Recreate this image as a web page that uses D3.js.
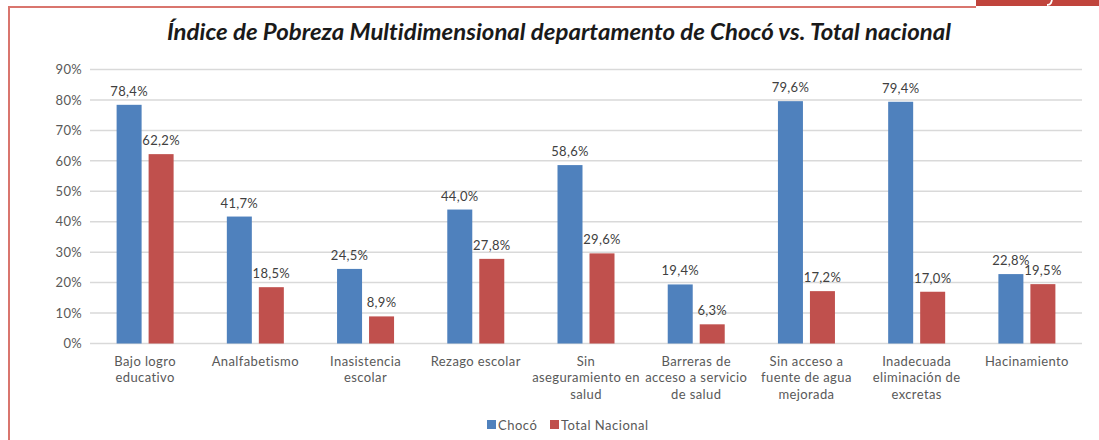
<!DOCTYPE html>
<html>
<head>
<meta charset="utf-8">
<script src="https://cdn.jsdelivr.net/npm/d3@7"></script>
<style>
  body { margin: 0; background: #fff; }
  svg { display: block; }
  text { font-variant-ligatures: none; }
  .tick text { font-family: Lato, "Open Sans", sans-serif; font-size: 13px; fill: #595959; letter-spacing: 0.3px; }
</style>
</head>
<body>
<div id="chart"></div>
<script>
// data
var categories = [
  ["Bajo logro", "educativo"],
  ["Analfabetismo"],
  ["Inasistencia", "escolar"],
  ["Rezago escolar"],
  ["Sin", "aseguramiento en", "salud"],
  ["Barreras de", "acceso a servicio", "de salud"],
  ["Sin acceso a", "fuente de agua", "mejorada"],
  ["Inadecuada", "eliminación de", "excretas"],
  ["Hacinamiento"]
];
var choco = [78.4, 41.7, 24.5, 44.0, 58.6, 19.4, 79.6, 79.4, 22.8];
var nacional = [62.2, 18.5, 8.9, 27.8, 29.6, 6.3, 17.2, 17.0, 19.5];
var seriesNames = ["Chocó", "Total Nacional"];
var colors = ["#4f81bd", "#c0504d"];
var yTicks = [0, 10, 20, 30, 40, 50, 60, 70, 80, 90];

var W = 1099, H = 440;
var margin = {top: 69.5, right: 17, bottom: 96.5, left: 90},
  width = W - margin.left - margin.right,
  height = H - margin.top - margin.bottom;

var svg = d3.select("#chart").append("svg")
  .attr("width", W)
  .attr("height", H);

// frame, with the red tab cut off at the top right
svg.append("rect")
  .attr("x", 976).attr("y", 0)
  .attr("width", 123).attr("height", 6)
  .attr("fill", "#c0443c");
svg.append("path")
  .attr("d", "M1052,0 L1051,3 Q1050,5 1047,5")
  .attr("fill", "none")
  .attr("stroke", "#fff")
  .attr("stroke-width", 1.8);
svg.append("path")
  .attr("d", "M9,440 V7 H976")
  .attr("fill", "none")
  .attr("stroke", "#d9756e")
  .attr("stroke-width", 2);

// title
svg.append("text")
  .attr("x", 559).attr("y", 40)
  .attr("text-anchor", "middle")
  .attr("fill", "#1a1a1a")
  .style("font-family", "Lato, 'Open Sans', sans-serif")
  .style("font-style", "italic")
  .style("font-weight", "bold")
  .style("font-size", "22px")
  .attr("textLength", 784)
  .attr("lengthAdjust", "spacingAndGlyphs")
  .text("Índice de Pobreza Multidimensional departamento de Chocó vs. Total nacional");

var g = svg.append("g")
  .attr("transform", "translate(" + margin.left + "," + margin.top + ")");

var x = d3.scaleBand()
  .domain(d3.range(categories.length))
  .range([0, width]);

var y = d3.scaleLinear()
  .domain([0, 90])
  .range([height, 0]);

// gridlines
g.append("g")
  .selectAll("line")
  .data(yTicks)
  .join("line")
  .attr("x1", 0).attr("x2", width)
  .attr("y1", function(d) { return y(d); })
  .attr("y2", function(d) { return y(d); })
  .attr("stroke", "#d9d9d9")
  .attr("stroke-width", 1.5);

// y axis
var yAxis = g.append("g")
  .call(d3.axisLeft(y)
    .tickValues(yTicks)
    .tickFormat(function(d) { return d + "%"; })
    .tickSize(0)
    .tickPadding(8));
yAxis.select(".domain").remove();

var barW = 25, gap = 7;
var series = [choco, nacional];

series.forEach(function(vals, s) {
  var off = s === 0 ? -(gap / 2 + barW) : gap / 2;
  var cx = function(i) { return x(i) + x.bandwidth() / 2 + off; };

  g.append("g")
    .selectAll("rect")
    .data(vals)
    .join("rect")
    .attr("x", function(d, i) { return cx(i); })
    .attr("y", function(d) { return y(d); })
    .attr("width", barW)
    .attr("height", function(d) { return height - y(d); })
    .attr("fill", colors[s]);

  g.append("g")
    .selectAll("text")
    .data(vals)
    .join("text")
    .attr("x", function(d, i) { return cx(i) + barW / 2; })
    .attr("y", function(d) { return y(d) - 9; })
    .attr("text-anchor", "middle")
    .attr("fill", "#404040")
    .style("font-family", "Lato, 'Open Sans', sans-serif")
    .style("font-size", "13px")
    .style("letter-spacing", "0.3px")
    .text(function(d) { return d.toFixed(1).replace(".", ",") + "%"; });
});

// category labels
var labels = g.append("g")
  .selectAll("text")
  .data(categories)
  .join("text")
  .attr("x", function(d, i) { return x(i) + x.bandwidth() / 2; })
  .attr("y", height + 22)
  .attr("text-anchor", "middle")
  .attr("fill", "#595959")
  .style("font-family", "Lato, 'Open Sans', sans-serif")
  .style("font-size", "13px")
  .style("letter-spacing", "0.4px");

labels.selectAll("tspan")
  .data(function(d) { return d; })
  .join("tspan")
  .attr("x", function() { return this.parentNode.getAttribute("x"); })
  .attr("dy", function(d, i) { return i === 0 ? 0 : 16.5; })
  .text(function(d) { return d; });

// legend
var legend = svg.append("g")
  .attr("transform", "translate(487,425)");
var lx = [0, 63];
seriesNames.forEach(function(name, i) {
  legend.append("rect")
    .attr("x", lx[i]).attr("y", -5)
    .attr("width", 9).attr("height", 9)
    .attr("fill", colors[i]);
  legend.append("text")
    .attr("x", lx[i] + 11).attr("y", 4.5)
    .attr("fill", "#595959")
    .style("font-family", "Lato, 'Open Sans', sans-serif")
    .style("font-size", "13px")
    .style("letter-spacing", "0.5px")
    .text(name);
});
</script>
</body>
</html>
